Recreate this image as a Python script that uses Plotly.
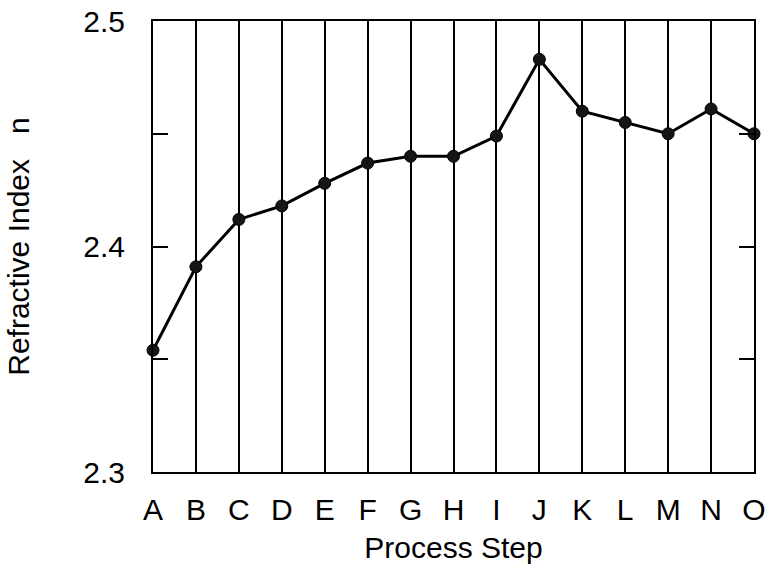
import plotly.graph_objects as go

# Refractive index measured after each process step
steps = ["A", "B", "C", "D", "E", "F", "G", "H", "I", "J", "K", "L", "M", "N", "O"]
refractive_index = [2.354, 2.391, 2.412, 2.418, 2.428, 2.437, 2.440, 2.440,
                    2.449, 2.483, 2.460, 2.455, 2.450, 2.461, 2.450]

# y-axis ticks: labelled every 0.1, unlabelled minor marks in between
y_tickvals = [2.30, 2.35, 2.40, 2.45, 2.50]
y_ticktext = ["2.3", "", "2.4", "", "2.5"]

FONT = "Liberation Sans, Arial, Helvetica, sans-serif"

fig = go.Figure()
fig.add_trace(go.Scatter(
    x=list(range(len(steps))),
    y=refractive_index,
    mode="lines+markers",
    line=dict(color="black", width=3),
    marker=dict(color="#151515", size=12, line=dict(color="black", width=1)),
    showlegend=False,
    cliponaxis=False,
))

fig.update_layout(
    width=769, height=571,
    margin=dict(l=153, r=15, t=21, b=99),
    paper_bgcolor="white", plot_bgcolor="white",
    font=dict(family=FONT, size=30, color="black"),
)

fig.update_xaxes(
    range=[0, len(steps) - 1],
    tickmode="array",
    tickvals=list(range(len(steps))),
    ticktext=steps,
    tickfont=dict(size=30),
    ticks="",
    showgrid=True, gridcolor="black", gridwidth=2,
    showline=True, linecolor="black", linewidth=2, mirror=True,
    zeroline=False,
    automargin=False,
    ticklabelstandoff=10,
    title=dict(text="Process Step", font=dict(size=30), standoff=12),
)

fig.update_yaxes(
    range=[2.3, 2.5],
    tickmode="array",
    tickvals=y_tickvals,
    ticktext=y_ticktext,
    tickfont=dict(size=30),
    ticks="inside", ticklen=15, tickwidth=2, tickcolor="black",
    showgrid=False,
    showline=True, linecolor="black", linewidth=2, mirror="ticks",
    zeroline=False,
    automargin=False,
    ticklabelstandoff=20,
    title=dict(text="Refractive Index\u00a0\u00a0\u00a0n", font=dict(size=30), standoff=45),
)

fig.write_html("out.html")
